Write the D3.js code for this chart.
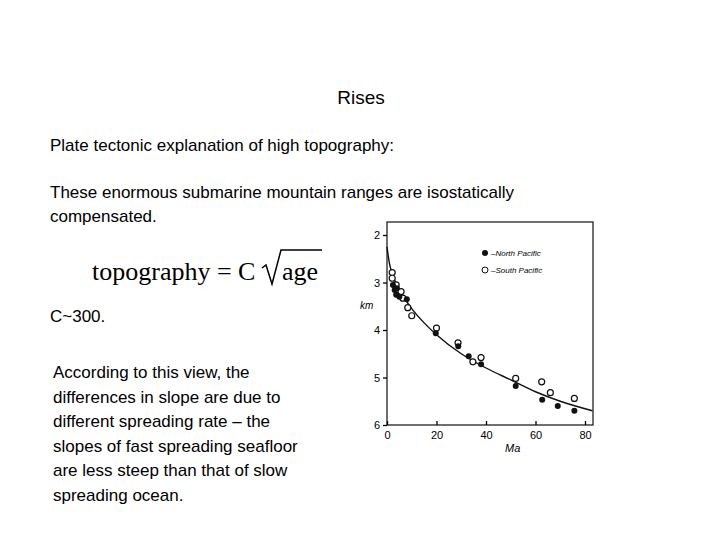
<!DOCTYPE html><html><head><meta charset="utf-8">
<script src="https://cdn.jsdelivr.net/npm/d3@7"></script>
<style>body{margin:0;background:#fff}</style></head><body>
<svg id="s" width="720" height="540"></svg>
<script>
const northAge=[2.4,3.1,3.7,4,5,8,19.7,28.8,33,38,52,62.7,69,75.7];
const northDepth=[3.05,3.16,3.26,3.12,3.3,3.35,4.07,4.34,4.55,4.72,5.18,5.47,5.6,5.7];
const southAge=[2.1,2.1,3.7,5.7,6.4,8.4,10,20,28.7,34.7,38,52,62.5,66,75.7];
const southDepth=[2.79,2.91,3.05,3.19,3.33,3.53,3.7,3.96,4.27,4.67,4.58,5.02,5.09,5.32,5.44];
const curveAge=[0,1,2,5,10,15,20,30,40,50,60,70,83];
const curveDepth=[2.25,2.6,2.8,3.15,3.55,3.85,4.1,4.5,4.8,5.05,5.3,5.5,5.7];
const xTicks=[0,20,40,60,80], yTicks=[2,3,4,5,6];
const svg=d3.select("#s");
const T=(x,y,t,o={})=>svg.append("text").attr("x",x).attr("y",y).text(t)
 .attr("font-family",o.f||"Liberation Sans, Arial").attr("font-size",o.s||17).attr("text-anchor",o.a||"start").attr("font-style",o.i||"normal");
T(361,104,"Rises",{a:"middle",s:19});
T(50,151,"Plate tectonic explanation of high topography:");
T(50,198,"These enormous submarine mountain ranges are isostatically");
T(50,222,"compensated.");
T(92,280,"topography = C",{f:"Liberation Serif, Times New Roman",s:26});
T(50,322,"C~300.");
["According to this view, the","differences in slope are due to","different spreading rate – the","slopes of fast spreading seafloor","are less steep than that of slow","spreading ocean."].forEach((t,i)=>T(53,378+i*24.5,t));
svg.append("path").attr("d","M262,268 L266,265 L272,284 L281,250 L322,250").attr("fill","none").attr("stroke","#000").attr("stroke-width",1.5);
T(282,280,"age",{f:"Liberation Serif, Times New Roman",s:26});
const x=d3.scaleLinear().domain([0,80]).range([387,585]);
const y=d3.scaleLinear().domain([2,6]).range([235,425]);
const g=svg.append("g").attr("stroke","#222").attr("stroke-width",1.3);
g.append("rect").attr("x",387).attr("y",222).attr("width",206).attr("height",203).attr("fill","none");
g.append("g").attr("transform","translate(0,425)").call(d3.axisBottom(x).tickValues(xTicks).tickFormat(d3.format("d")).tickSize(-4).tickPadding(6))
 .call(a=>{a.select(".domain").remove();a.selectAll("text").attr("font-size",11).attr("font-family","Liberation Sans").attr("stroke","none")});
g.append("g").attr("transform","translate(387,0)").call(d3.axisLeft(y).tickValues(yTicks).tickFormat(d3.format("d")).tickSize(4).tickPadding(3))
 .call(a=>{a.select(".domain").remove();a.selectAll("text").attr("font-size",11).attr("font-family","Liberation Sans").attr("stroke","none")});
T(360,309,"km",{s:10,i:"italic"});T(505,452,"Ma",{s:11,i:"italic"});
svg.append("path").datum(curveAge.map((a,i)=>[a,curveDepth[i]]))
 .attr("d",d3.line().x(d=>x(d[0])).y(d=>y(d[1])).curve(d3.curveMonotoneX)).attr("fill","none").attr("stroke","#111").attr("stroke-width",1.4);
southAge.forEach((a,i)=>svg.append("circle").attr("cx",x(a)).attr("cy",y(southDepth[i])).attr("r",3).attr("fill","#fff").attr("stroke","#111").attr("stroke-width",1.2));
northAge.forEach((a,i)=>svg.append("circle").attr("cx",x(a)).attr("cy",y(northDepth[i])).attr("r",3).attr("fill","#111"));
svg.append("circle").attr("cx",485).attr("cy",253).attr("r",3).attr("fill","#111");
svg.append("circle").attr("cx",485).attr("cy",270).attr("r",3).attr("fill","#fff").attr("stroke","#111");
T(491,256,"–North Pacific",{s:8,i:"italic"});T(491,273,"–South Pacific",{s:8,i:"italic"});
</script></body></html>
